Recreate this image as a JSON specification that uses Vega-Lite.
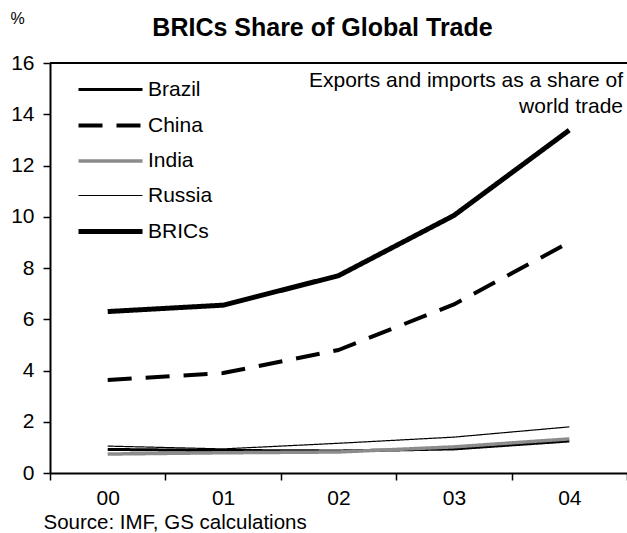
{
  "$schema": "https://vega.github.io/schema/vega-lite/v6.json",
  "width": 577,
  "height": 410,
  "autosize": {"type": "none"},
  "padding": {"left": 50, "top": 63, "right": 0, "bottom": 60},
  "background": "white",
  "config": {
    "font": "Liberation Sans",
    "view": {"stroke": null},
    "axis": {"labelFont": "Liberation Sans", "titleFont": "Liberation Sans", "labelColor": "black", "domainColor": "black", "tickColor": "black", "grid": false}
  },
  "title": {"text": "BRICs Share of Global Trade", "fontSize": 25, "fontWeight": "bold", "font": "Liberation Sans", "color": "black", "anchor": "middle", "frame": "group", "dx": -16, "offset": -31},
  "layer": [
    {
      "data": {"values": [{"border": 16}]},
      "mark": {"type": "rule", "color": "#000000", "strokeWidth": 2},
      "encoding": {"y": {"field": "border", "type": "quantitative"}}
    },
    {
      "data": {
        "values": [
          {"year": "00", "country": "Brazil", "share": 0.92},
          {"year": "01", "country": "Brazil", "share": 0.88},
          {"year": "02", "country": "Brazil", "share": 0.86},
          {"year": "03", "country": "Brazil", "share": 0.94},
          {"year": "04", "country": "Brazil", "share": 1.25},
          {"year": "00", "country": "China", "share": 3.63},
          {"year": "01", "country": "China", "share": 3.9},
          {"year": "02", "country": "China", "share": 4.8},
          {"year": "03", "country": "China", "share": 6.58},
          {"year": "04", "country": "China", "share": 9.0},
          {"year": "00", "country": "India", "share": 0.74},
          {"year": "01", "country": "India", "share": 0.79},
          {"year": "02", "country": "India", "share": 0.82},
          {"year": "03", "country": "India", "share": 1.02},
          {"year": "04", "country": "India", "share": 1.33},
          {"year": "00", "country": "Russia", "share": 1.05},
          {"year": "01", "country": "Russia", "share": 0.94},
          {"year": "02", "country": "Russia", "share": 1.16},
          {"year": "03", "country": "Russia", "share": 1.4},
          {"year": "04", "country": "Russia", "share": 1.8},
          {"year": "00", "country": "BRICs", "share": 6.3},
          {"year": "01", "country": "BRICs", "share": 6.55},
          {"year": "02", "country": "BRICs", "share": 7.7},
          {"year": "03", "country": "BRICs", "share": 10.05},
          {"year": "04", "country": "BRICs", "share": 13.38}
        ]
      },
      "mark": {"type": "line", "strokeJoin": "round"},
      "encoding": {
        "x": {
          "field": "year", "type": "ordinal", "bandPosition": 0.5,
          "scale": {"type": "band", "paddingInner": 0, "paddingOuter": 0},
          "axis": {
            "title": "Source: IMF, GS calculations", "titleAnchor": "start", "titleAlign": "left", "titleBaseline": "alphabetic",
            "titleX": -7, "titleY": 55, "titleFontSize": 20.5, "titleFontWeight": "normal", "titleColor": "black",
            "labelAngle": 0, "labelFontSize": 21, "tickBand": "extent", "tickSize": 7, "tickWidth": 1.5, "domainWidth": 2, "labelPadding": 7
          }
        },
        "y": {
          "field": "share", "type": "quantitative",
          "scale": {"domain": [0, 16], "nice": false},
          "axis": {
            "title": "%", "titleAngle": 0, "titleAlign": "left", "titleBaseline": "alphabetic", "titleX": -40, "titleY": -40,
            "titleFontSize": 16, "titleFontWeight": "normal", "titleColor": "black",
            "values": [0, 2, 4, 6, 8, 10, 12, 14, 16], "labelFontSize": 21, "tickSize": 7, "tickWidth": 1.5, "domainWidth": 2, "labelPadding": 9
          }
        },
        "color": {
          "field": "country", "type": "nominal",
          "scale": {"domain": ["Brazil", "China", "India", "Russia", "BRICs"], "range": ["#000000", "#000000", "#8c8c8c", "#000000", "#000000"]},
          "legend": {"title": null, "orient": "none", "legendX": 70, "legendY": 15, "symbolType": "M-5.4,0H1", "symbolSize": 400, "labelFontSize": 21, "labelColor": "black", "labelFont": "Liberation Sans", "rowPadding": 13.5, "labelOffset": 3, "padding": 0}
        },
        "strokeWidth": {
          "field": "country", "type": "nominal",
          "scale": {"type": "ordinal", "domain": ["Brazil", "China", "India", "Russia", "BRICs"], "range": [3, 4, 3.5, 1.2, 5]},
          "legend": {"title": null, "orient": "none", "legendX": 70, "legendY": 15, "symbolType": "M-5.4,0H1", "symbolSize": 400, "labelFontSize": 21, "labelColor": "black", "labelFont": "Liberation Sans", "rowPadding": 13.5, "labelOffset": 3, "padding": 0}
        },
        "strokeDash": {
          "field": "country", "type": "nominal",
          "scale": {"domain": ["Brazil", "China", "India", "Russia", "BRICs"], "range": [[1, 0], [24, 14], [1, 0], [1, 0], [1, 0]]},
          "legend": {"title": null, "orient": "none", "legendX": 70, "legendY": 15, "symbolType": "M-5.4,0H1", "symbolSize": 400, "labelFontSize": 21, "labelColor": "black", "labelFont": "Liberation Sans", "rowPadding": 13.5, "labelOffset": 3, "padding": 0}
        }
      }
    },
    {
      "data": {"values": [{"note": "Exports and imports as a share of"}]},
      "mark": {"type": "text", "align": "right", "baseline": "alphabetic", "fontSize": 21, "lineHeight": 26, "dx": -4, "font": "Liberation Sans", "color": "black"},
      "encoding": {
        "x": {"datum": "04", "type": "ordinal", "bandPosition": 1},
        "y": {"datum": 15.06, "type": "quantitative"},
        "text": {"value": ["Exports and imports as a share of", "world trade"]}
      }
    }
  ]
}
